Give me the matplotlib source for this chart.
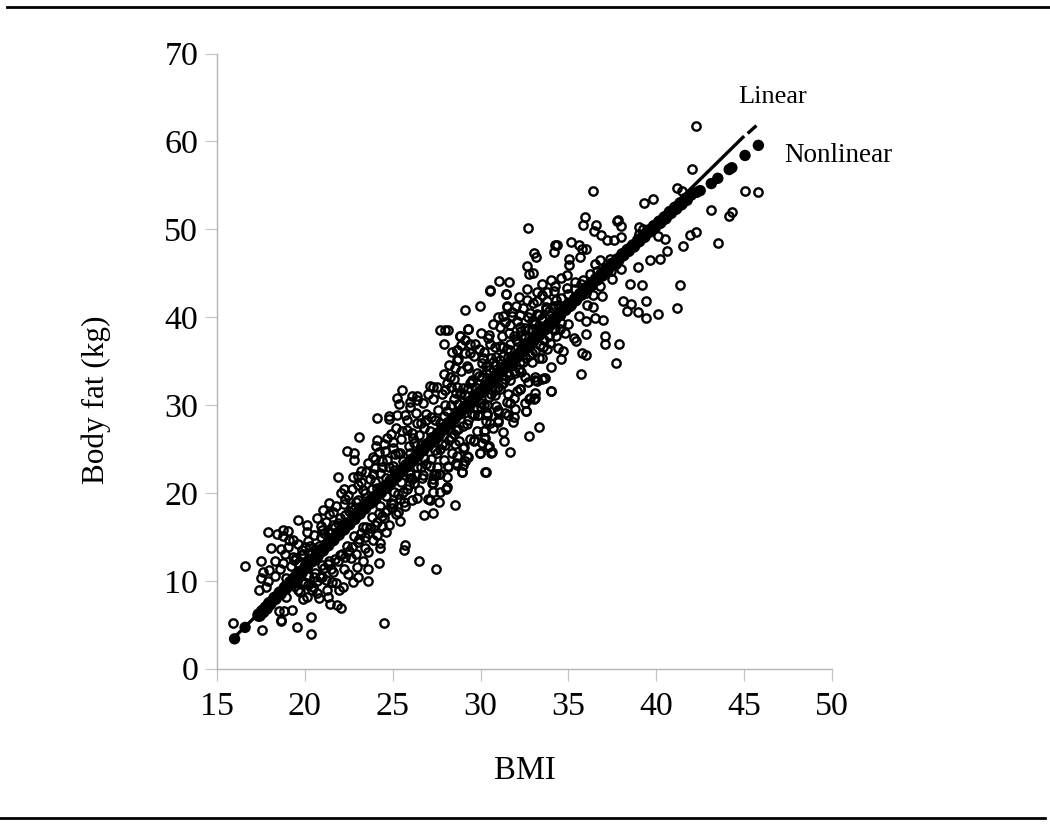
import matplotlib
matplotlib.use("Agg")
import matplotlib.pyplot as plt
from matplotlib.lines import Line2D

plt.rcParams['font.family'] = ['Liberation Serif', 'DejaVu Serif']

x_ticks = [15, 20, 25, 30, 35, 40, 45, 50]
y_ticks = [0, 10, 20, 30, 40, 50, 60, 70]

upper_outer = [
    (42.24,61.8),(42.03,56.9),(36.4,54.4),(39.3,53.0),(39.83,53.5),(41.16,54.7),(41.45,54.3),
    (32.68,50.2),(35.93,51.4),(35.83,50.5),(36.55,50.5),(36.48,49.8),(36.87,49.4),(37.2,48.8),
    (37.58,48.8),(37.99,49.1),(37.78,50.9),(37.84,51.0),(37.99,50.4),(39.0,50.3),(39.26,50.0),
    (39.0,49.5),(31.05,44.1),(31.64,44.0),(30.56,43.07),(31.47,42.6),(29.97,41.3),(29.13,40.8),
    (28.0,38.5),(27.7,38.5),(28.15,38.5),(29.28,38.6),(27.92,37.0),(28.83,37.8),(33.04,47.3),
    (33.15,46.8),(32.66,45.8),(32.74,44.9),(33.0,45.0),(34.16,47.4),(34.24,48.2),(34.33,48.2),
    (35.13,48.6),(35.62,48.2),(36.0,47.7),(35.75,47.7),(35.64,46.8),(35.05,46.6),(35.05,45.9),
    (36.5,46.1),(36.8,46.5),(37.37,46.6),(36.23,44.9),(35.85,44.25),(35.37,44.05),(34.9,44.8),
    (34.56,44.4),(34.0,44.25),(33.52,43.75),(34.24,43.55),(34.9,43.3),(32.66,43.2),(33.19,42.9),
    (33.76,42.9),(32.19,42.3),(32.66,42.0),(33.19,41.8),(33.76,41.8),(34.6,42.2),(34.24,41.3),
    (31.48,41.1),(32.0,41.3),(31.3,40.1),(31.77,40.1),(32.24,40.3),(32.81,40.45),(33.48,39.9),
    (33.06,39.5),(31.1,38.9),(31.67,39.1),(32.24,38.9),(34.24,38.7),(30.5,38.0),(30.54,37.0),
    (29.68,37.0),(28.64,36.3),(29.11,37.4),(31.1,36.7),(30.16,35.3),(28.64,35.1),(29.4,35.9),
    (30.35,34.4),(28.54,34.2),(29.2,34.4),(28.07,32.5),(28.64,32.1),(29.4,32.5),(27.97,31.7),
    (28.83,31.3),(28.26,33.2),(30.54,43.0),(31.45,42.6),(29.27,38.6),(28.64,36.25),(28.83,37.8),
]
lower_outer = [
    (45.05,54.4),(45.81,54.2),(43.14,52.2),(44.33,52.0),(44.14,51.5),(40.12,49.2),(40.52,48.9),
    (41.94,49.4),(42.26,49.7),(41.52,48.1),(43.5,48.4),(40.63,47.5),(40.23,46.6),(39.64,46.5),
    (38.94,45.7),(41.33,43.7),(41.18,41.0),(39.19,43.7),(38.49,43.75),(39.44,41.8),(38.56,41.5),
    (38.11,41.8),(38.33,40.7),(38.96,40.6),(39.4,39.9),(40.12,40.4),(37.48,44.3),(36.91,42.4),
    (36.4,42.5),(36.06,41.4),(36.4,41.2),(36.0,39.6),(36.5,39.9),(36.97,39.7),(34.82,38.2),
    (36.0,38.1),(35.45,37.3),(37.08,37.8),(37.08,37.0),(37.88,36.9),(34.39,36.5),(35.75,35.9),
    (36.02,35.7),(33.52,35.3),(34.58,35.2),(37.69,34.8),(35.74,33.5),(33.61,33.1),(34.0,31.6),
    (33.08,33.2),(33.19,32.7),(32.24,31.8),(32.74,30.7),(33.06,30.7),(32.57,29.3),(31.9,30.8),
    (31.58,31.3),(31.96,29.6),(31.58,35.5),(32.24,34.95),(32.9,35.9),(33.95,37.1),(33.57,36.65),
    (31.96,33.6),(31.3,32.5),(30.82,31.15),(31.0,29.25),(31.58,28.9),(30.35,28.9),(29.87,28.9),
    (32.5,33.2),(33.33,27.5),(32.78,26.5),(33.98,31.6),(32.82,30.75),(33.1,30.75),(32.59,29.35),
    (33.67,33.1),(33.1,32.8),(32.25,31.85),(31.68,30.2),(31.39,29.05),(31.87,28.1),(31.02,28.1),
    (30.35,29.05),(30.26,27.15),(30.26,26.2),(31.36,25.9),(31.68,24.7),(30.64,24.7),(30.45,25.25),
    (29.97,24.6),(29.63,25.9),(30.3,22.4),(29.25,24.2),(28.93,22.4),(29.06,25.25),(28.55,25.6),
    (28.64,23.2),(28.17,23.0),(27.64,22.2),(27.35,22.15),(28.07,20.7),(26.65,21.65),(27.22,21.1),
    (25.99,21.65),(27.69,22.15),(27.45,22.1),(27.31,21.1),(27.31,20.1),(28.05,20.5),(27.64,18.96),
    (27.31,17.75),(26.78,17.44),(28.55,18.6),(27.12,19.2),(26.36,19.45),(25.64,19.0),(25.32,17.86),
    (25.42,16.84),(24.94,18.24),(24.56,17.86),(24.37,16.2),(24.6,15.6),(24.09,15.2),(24.28,14.25),
    (24.28,13.7),(25.7,14.1),(25.64,13.5),(26.48,12.24),(27.45,11.33),(24.22,12.05),(23.57,13.3),
    (23.57,9.97),(22.76,9.9),(23.61,11.4),(23.33,12.2),(22.95,11.6),(23.04,10.46),(22.47,10.8),
    (22.19,9.3),(21.96,8.94),(21.24,8.94),(21.34,8.2),(21.43,7.35),(21.81,7.2),(22.06,6.85),
]
low_end = [
    (15.93,5.18),(17.58,4.4),(18.53,6.6),(18.81,6.55),(19.29,6.66),(18.64,5.5),(18.66,5.4),
    (19.57,4.69),(20.37,5.9),(20.37,3.93),(24.49,5.18),(16.61,11.67),(17.52,12.3),(18.28,12.2),
    (17.64,11.03),(17.96,11.2),(17.5,10.35),(17.92,9.96),(17.39,8.9),(17.79,9.26),(18.93,8.18),
    (17.92,15.55),(18.43,15.3),(18.74,15.77),(19.06,15.66),(18.77,15.1),(19.59,16.9),(20.14,16.4),
    (19.34,14.6),(18.07,13.76),(18.66,13.65),(19.02,13.9),(18.87,13.04),(19.34,12.74),(19.82,13.5),
    (18.77,12.0),(19.63,12.0),(20.1,15.6),(21.39,18.8),(21.01,18.05),(21.62,17.86),(21.9,21.8),
    (22.72,21.8),(23.18,22.5),(23.04,21.9),(22.4,24.8),(22.78,24.5),(22.82,23.8),(23.06,26.4),
    (22.21,20.5),(22.04,19.95),(22.47,19.76),(24.09,28.5),(24.79,28.8),(24.79,28.4),(25.26,28.9),
    (24.12,26.0),(24.66,26.3),(24.03,25.3),(24.56,24.8),(23.88,24.05),(25.13,24.4),(24.37,23.6),
    (23.99,22.8),(25.51,27.1),(25.8,28.3),(26.36,27.9),(25.36,30.1),(25.98,29.8),(26.87,28.3),
    (25.03,25.8),(26.17,26.2),(30.27,22.38),(28.95,22.38),(29.97,24.5),(30.6,24.6),(30.5,25.3),
    (30.2,26.2),(30.2,27.0),(29.63,26.0),(29.85,28.9),(30.54,28.0),(31.01,28.3),(31.01,29.4),
    (30.35,30.0),(29.02,25.15),(29.27,24.1),(29.12,23.6),(28.64,24.2),(28.6,23.4),(28.17,23.1),
    (20.67,8.56),(19.91,7.9),(20.1,8.2),(20.48,9.3),(19.72,8.75),(21.53,9.9),(20.86,10.46),
    (20.2,10.65),(25.53,31.7),(25.23,30.75),(26.08,31.0),(26.36,31.0),(27.31,32.1),(27.1,32.2),
]
band_above = [
    (18.3,10.6),(18.6,11.4),(18.9,10.3),(19.2,11.7),(19.5,12.6),(19.1,14.6),(19.6,14.2),(19.9,13.0),
    (20.2,14.5),(20.5,15.2),(20.4,13.2),(20.8,14.0),(20.9,16.2),(20.7,17.1),(21.1,15.4),(21.2,16.7),
    (21.4,17.6),(21.6,16.4),(21.3,14.9),(21.8,18.5),(22.0,17.2),(22.2,18.7),(22.3,19.3),(22.5,17.9),
    (22.7,20.4),(22.9,19.0),(23.0,20.9),(23.2,21.2),(23.4,20.0),(23.5,22.4),(23.7,21.6),(23.6,23.4),
    (23.9,22.1),(24.0,23.9),(24.2,24.7),(24.4,22.9),(24.5,25.6),(24.7,23.8),(24.9,26.7),(25.0,25.1),
    (25.2,27.4),(25.3,24.6),(25.5,26.1),(25.7,28.9),(25.8,27.2),(26.0,30.4),(26.1,26.8),(26.3,29.1),
    (26.4,30.6),(26.6,27.9),(26.7,30.2),(26.9,29.0),(27.0,31.2),(27.2,28.6),(27.3,30.7),(27.5,32.0),
    (27.6,29.4),(27.8,31.3),(27.9,33.5),(28.0,30.0),(28.2,34.6),(28.3,32.1),(28.4,36.0),(28.5,33.0),
    (28.6,31.4),(28.7,35.2),(28.9,36.8),(28.9,33.9),(29.0,31.9),(29.1,35.9),(29.3,34.2),(29.4,37.0),
    (29.5,32.9),(29.6,35.6),(29.8,33.7),(29.9,36.4),(30.0,38.2),(30.1,34.8),(30.2,36.0),(30.3,33.6),
    (30.4,37.6),(30.6,35.3),(30.7,39.2),(30.8,36.6),(30.9,34.5),(31.0,40.0),(31.2,37.8),(31.3,35.6),
    (31.4,39.4),(31.5,41.3),(31.6,38.2),(31.7,36.3),(31.8,40.6),(32.0,37.5),(32.1,39.6),(32.3,38.4),
    (32.4,41.0),(32.5,37.9),(32.7,40.0),(32.9,38.7),(33.0,41.6),(33.2,40.4),(33.4,38.6),(33.5,42.5),
    (33.7,40.9),(33.9,39.2),(34.2,43.0),(34.4,41.4),(35.0,42.6),(35.4,43.2),(35.1,41.3),(35.7,43.8),
    (36.0,42.8),(36.2,44.0),(36.6,45.3),(36.8,43.6),(37.1,45.6),(37.4,45.2),(37.7,46.0),(38.0,45.5),
]
band_below = [
    (19.4,9.4),(19.9,9.9),(20.1,10.6),(20.4,9.0),(20.6,10.9),(20.8,8.1),(21.0,11.8),(21.2,10.1),
    (21.4,12.3),(21.6,11.0),(21.8,9.8),(22.0,12.9),(22.2,11.4),(22.4,14.0),(22.6,12.6),(22.8,15.1),
    (22.9,13.0),(23.1,14.8),(23.3,16.1),(23.4,13.7),(23.6,15.4),(23.8,17.3),(23.9,14.6),(24.1,16.7),
    (24.3,18.5),(24.5,17.2),(24.6,19.6),(24.8,16.3),(24.9,18.8),(25.1,20.1),(25.2,17.6),(25.4,19.3),
    (25.5,21.2),(25.7,18.5),(25.8,20.4),(26.0,22.2),(26.1,19.2),(26.2,21.1),(26.4,23.0),(26.5,20.3),
    (26.7,22.0),(26.8,24.0),(27.0,19.3),(27.1,23.1),(27.3,21.6),(27.4,24.9),(27.5,22.9),(27.7,20.1),
    (27.8,25.6),(27.9,23.8),(28.1,21.8),(28.3,26.4),(28.4,24.5),(28.6,27.2),(28.8,25.9),(29.0,23.2),
    (29.2,27.8),(29.4,26.1),(29.6,28.9),(29.8,27.0),(30.0,29.8),(30.1,25.7),(30.3,28.2),(30.5,30.9),
    (30.7,27.4),(30.9,29.9),(31.1,31.8),(31.3,26.9),(31.5,30.4),(31.7,32.9),(31.9,28.6),(32.1,31.6),
    (32.3,33.8),(32.5,30.2),(32.7,32.6),(32.9,34.9),(33.1,31.4),(33.3,35.4),(33.5,33.0),(33.8,36.4),
    (34.0,34.3),(34.3,37.8),(34.5,38.7),(34.7,36.2),(35.0,39.2),(35.3,37.6),(35.6,40.1),
]
near_above = [
    (19.4,12.4),(19.8,12.9),(20.0,13.9),(20.3,14.0),(20.6,13.6),(20.9,15.0),(21.0,15.8),(21.3,15.6),
    (21.5,15.4),(21.7,16.1),(21.9,16.6),(22.1,16.4),(22.3,17.5),(22.6,18.4),(22.8,18.2),(23.0,19.2),
    (23.1,18.4),(23.3,20.3),(23.5,19.4),(23.8,20.5),(24.0,21.2),(24.1,20.6),(24.3,22.3),(24.6,21.7),
    (24.8,22.9),(25.0,23.1),(25.1,22.6),(25.4,24.5),(25.6,23.6),(25.9,25.3),(26.0,24.5),(26.2,25.7),
    (26.5,26.6),(26.6,25.4),(26.8,27.4),(27.1,27.1),(27.2,26.4),(27.4,28.3),(27.7,27.9),(27.9,28.8),
    (28.1,29.3),(28.3,30.0),(28.5,30.7),(28.7,30.1),(28.9,31.4),(29.1,31.1),(29.3,31.9),(29.5,32.6),
    (29.7,32.0),(29.9,33.3),(30.1,33.2),(30.3,34.4),(30.5,34.0),(30.7,34.9),(30.9,35.5),(31.1,35.1),
    (31.3,36.6),(31.5,36.4),(31.7,37.0),(31.9,37.9),(32.1,37.3),(32.3,37.8),(32.5,38.8),(32.7,38.5),
    (32.9,39.6),(33.1,39.2),(33.3,40.3),(33.5,39.7),(33.7,41.2),(33.9,40.7),(34.1,41.0),(34.3,42.0),
]
near_below = [
    (19.6,8.9),(20.0,9.7),(20.2,9.5),(20.5,10.4),(20.7,10.0),(21.0,10.4),(21.1,11.5),(21.3,11.9),
    (21.5,11.3),(21.7,12.5),(21.9,12.2),(22.1,13.0),(22.3,12.7),(22.5,13.4),(22.7,13.9),(23.0,14.4),
    (23.2,15.4),(23.4,15.0),(23.5,16.1),(23.7,16.0),(24.0,16.4),(24.2,17.7),(24.4,17.4),(24.7,18.1),
    (25.0,18.7),(25.3,19.9),(25.6,20.1),(25.9,20.9),(26.1,21.6),(26.3,22.0),(26.6,22.9),(26.9,23.3),
    (27.2,23.9),(27.5,24.6),(27.7,25.0),(28.0,25.5),(28.2,26.0),(28.5,26.7),(28.7,27.3),(29.0,27.6),
    (29.3,28.3),(29.5,29.0),(29.8,29.5),(30.0,30.2),(30.2,30.0),(30.6,31.2),(30.8,31.7),(31.0,32.0),
    (31.2,32.5),(31.4,33.0),(31.6,33.4),(31.9,33.9),(32.2,34.1),(32.4,34.9),(32.6,35.3),(32.8,35.7),
    (33.1,36.2),(33.4,36.8),(33.6,37.4),(33.9,37.9),(34.2,38.5),(34.6,39.3),
]

# Nonlinear predicted values, drawn as filled dots
nonlinear_bmi = [16.0, 16.6, 17.4, 17.6, 17.8, 18.0, 18.3, 18.6, 18.9, 19.2, 19.5, 19.8, 20.1, 20.4, 20.7, 21.0,
                 21.3, 21.6, 21.9, 22.2, 22.5, 22.8, 23.1, 23.4, 23.7, 24.0, 24.3, 24.6, 24.9, 25.2, 25.5, 25.8,
                 26.1, 26.4, 26.7, 27.0, 27.3, 27.6, 27.9, 28.2, 28.5, 28.8, 29.1, 29.4, 29.7, 30.0, 30.3, 30.6,
                 30.9, 31.2, 31.5, 31.8, 32.1, 32.4, 32.7, 33.0, 33.3, 33.6, 33.9, 34.2, 34.5, 34.8, 35.1, 35.4,
                 35.7, 36.0, 36.3, 36.6, 36.9, 37.2, 37.5, 37.8, 38.1, 38.4, 38.7, 39.0, 39.3, 39.6, 39.9, 40.2,
                 40.5, 40.8, 41.1, 41.4, 41.7, 42.0, 42.3, 42.5, 43.13, 43.5, 44.15, 44.3, 45.05, 45.81]
nonlinear_fat = [3.4, 4.7, 6.1, 6.5, 6.9, 7.4, 8.0, 8.6, 9.2, 9.8, 10.4, 11.0, 11.7, 12.3, 12.9, 13.5,
                 14.1, 14.7, 15.3, 15.9, 16.5, 17.1, 17.7, 18.3, 18.9, 19.5, 20.1, 20.7, 21.3, 21.9, 22.5, 23.1,
                 23.7, 24.3, 24.9, 25.5, 26.1, 26.7, 27.3, 27.9, 28.5, 29.1, 29.7, 30.3, 30.9, 31.5, 32.1, 32.7,
                 33.3, 33.9, 34.5, 35.1, 35.6, 36.2, 36.8, 37.4, 38.0, 38.6, 39.1, 39.7, 40.3, 40.9, 41.4, 42.0,
                 42.6, 43.2, 43.7, 44.3, 44.8, 45.4, 46.0, 46.5, 47.1, 47.6, 48.1, 48.7, 49.2, 49.8, 50.3, 50.8,
                 51.3, 51.9, 52.4, 52.9, 53.4, 53.9, 54.2, 54.4, 55.2, 55.8, 56.8, 57.0, 58.4, 59.55]

# Linear prediction, with the small break seen near its top end
linear_bmi = [16.0, 45.0, float('nan'), 45.2, 45.7]
linear_fat = [3.6, 60.6, float('nan'), 60.9, 61.8]

fig = plt.figure(figsize=(10.5, 8.3), dpi=100)
ax = fig.add_axes([217/1050, (830-668.7)/830, 615/1050, 615.2/830])

for group in (upper_outer, lower_outer, low_end, band_above, band_below, near_above, near_below):
    ax.plot([p[0] for p in group], [p[1] for p in group], ls='none', marker='o', ms=6.0,
            mfc='none', mec='black', mew=1.7, clip_on=False)
dot_sizes = [10.0**2 if 17.3 < b < 41.9 else 8.2**2 for b in nonlinear_bmi]
ax.scatter(nonlinear_bmi, nonlinear_fat, s=dot_sizes, c='black', linewidths=0, zorder=3)
ax.plot(linear_bmi, linear_fat, color='black', lw=2.4, solid_capstyle='butt', zorder=3)

ax.set_xlim(15, 50)
ax.set_ylim(0, 70)
ax.set_xticks(x_ticks)
ax.set_yticks(y_ticks)
for s in ('top', 'right'):
    ax.spines[s].set_visible(False)
for s in ('left', 'bottom'):
    ax.spines[s].set_color('#b4b4b4')
    ax.spines[s].set_linewidth(1.0)
ax.tick_params(axis='x', length=8.5, width=0.9, color='#c4c4c4', labelsize=24.5, pad=8, labelcolor='black')
ax.tick_params(axis='y', length=8.5, width=0.9, color='#c8c8c8', labelsize=24.5, pad=5, labelcolor='black')

ax.set_xlabel('BMI', fontsize=23.5, va='center')
ax.set_ylabel('Body fat (kg)', fontsize=22.5, va='center')
ax.xaxis.set_label_coords(0.5, -0.166)
ax.yaxis.set_label_coords(-0.197, 0.437)

ax.text(44.65, 65.05, 'Linear', fontsize=19, va='center', ha='left')
ax.text(47.27, 58.45, 'Nonlinear', fontsize=19.5, va='center', ha='left', clip_on=False)

fig.add_artist(Line2D([7/1050, 1], [1-7/830, 1-7/830], color='black', lw=2.0, transform=fig.transFigure))
fig.add_artist(Line2D([0, 1045/1050], [1-818/830, 1-818/830], color='black', lw=2.0, transform=fig.transFigure))

fig.savefig('out.png', dpi=100, facecolor='white')
